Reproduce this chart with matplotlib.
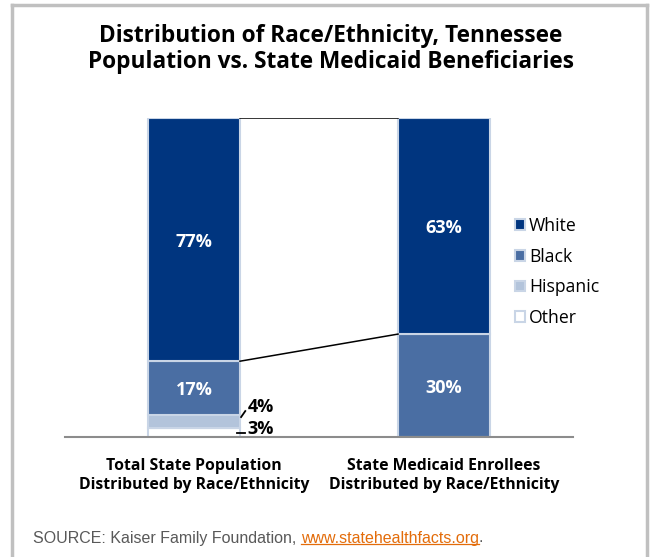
import numpy as np
import matplotlib.pyplot as plt
from matplotlib.patches import Patch
from matplotlib.lines import Line2D

# data: percent of each group, bottom to top of the stack
groups = ['Total State Population\nDistributed by Race/Ethnicity',
          'State Medicaid Enrollees\nDistributed by Race/Ethnicity']
races = ['Other', 'Hispanic', 'Black', 'White']
other = [3, np.nan]
hispanic = [4, np.nan]
black = [17, 30]
white = [77, 63]

colors = {'White': '#00357f', 'Black': '#4a6ea3', 'Hispanic': '#b3c4db', 'Other': '#ffffff'}
edge = '#c9d5e6'
bold = dict(family='Open Sans', fontweight='bold')

values = np.array([other, hispanic, black, white], dtype=float)
totals = np.nansum(values, axis=0)
shares = values / totals * 100  # 100% stacked

fig = plt.figure(figsize=(6.5, 5.57), dpi=100)
ax = fig.add_axes([65 / 650, 1 - 437 / 557, (573 - 65) / 650, (437 - 118) / 557])
ax.set_xlim(-0.516, 1.516)
ax.set_ylim(0, 100)

x = np.arange(len(groups))
w = 0.368
bottom = np.zeros(len(groups))
tops = {}
for i, race in enumerate(races):
    h = np.nan_to_num(shares[i])
    mask = ~np.isnan(shares[i])
    ax.bar(x[mask], h[mask], w, bottom=bottom[mask], color=colors[race],
           edgecolor=edge, linewidth=1.5, zorder=2)
    tops[race] = np.where(mask, bottom + h, np.nan)
    # labels inside the big segments
    for j in x[mask]:
        if shares[i][j] > 10:
            ax.annotate(f'{values[i][j]:.0f}%', xy=(j, bottom[j] + h[j] / 2), xytext=(0, -1.5),
                        textcoords='offset points', ha='center', va='center',
                        color='white', fontsize=13, **bold)
    bottom = bottom + h

# series lines between the two bars
for race in races:
    t = tops[race]
    if not np.isnan(t).any():
        ax.plot([x[0] + w / 2, x[1] - w / 2], [t[0], t[1]], color='black', lw=1.1, zorder=3)

ax.set_yticks([])
ax.set_xticks(x)
ax.set_xticklabels(groups, fontsize=11.3, linespacing=1.3, **bold)
ax.tick_params(axis='x', length=0, pad=15)
for s in ['top', 'right', 'left']:
    ax.spines[s].set_visible(False)
ax.spines['bottom'].set_color('#8c8c8c')
ax.spines['bottom'].set_linewidth(1.5)
ax.set_xlim(-0.516, 1.516)
ax.set_ylim(0, 100)

# small segments get labels outside, plus short leader lines
# (label offset, leader start offset, leader end offset) in points
small = [('Hispanic', 1, (5.5, 10.5), (0.8, 3), (3.8, 7.3)),
         ('Other', 0, (5.5, 2), (-2, -0.5), (3.6, -0.5))]
for race, i, off, l0, l1 in small:
    mid = tops[race][0] - shares[i][0] / 2
    xy = (x[0] + w / 2, mid)
    ax.annotate(f'{values[i][0]:.0f}%', xy=xy, xytext=off, textcoords='offset points',
                ha='left', va='center', fontsize=13, **bold)
    base = ax.transData.transform(xy)
    p0 = base + np.array(l0) * fig.dpi / 72
    p1 = base + np.array(l1) * fig.dpi / 72
    fig.add_artist(Line2D([p0[0] / 650, p1[0] / 650], [p0[1] / 557, p1[1] / 557],
                          transform=fig.transFigure, color='black', lw=1.3, zorder=5))

handles = [Patch(facecolor=colors[r], edgecolor=edge, linewidth=1.5) for r in races[::-1]]
fig.legend(handles, races[::-1], loc='upper left', bbox_to_anchor=(499 / 650, 1 - 201 / 557),
           frameon=False, prop={'family': 'Open Sans', 'size': 12.7}, handlelength=0.55,
           handleheight=0.55, handletextpad=0.25, labelspacing=0.72)

fig.text(331 / 650, 1 - 49 / 557,
         'Distribution of Race/Ethnicity, Tennessee\nPopulation vs. State Medicaid Beneficiaries',
         ha='center', va='center', fontsize=16.3, linespacing=1.13, **bold)

fs_src = 11.5
ys = 1 - 538 / 557
src = fig.text(33 / 650, ys, 'SOURCE: Kaiser Family Foundation, ', ha='left', va='center',
               fontsize=fs_src, color='#595959', family='Liberation Sans')
fig.canvas.draw()
bb = src.get_window_extent()
url = fig.text(bb.x1 / 650, ys, 'www.statehealthfacts.org', ha='left', va='center',
               fontsize=fs_src, color='#e36c0a', family='Liberation Sans')
bb2 = url.get_window_extent()
fig.text(bb2.x1 / 650, ys, '.', ha='left', va='center', fontsize=fs_src,
         color='#595959', family='Liberation Sans')
fig.add_artist(Line2D([bb2.x0 / 650, bb2.x1 / 650], [bb2.y0 / 557 + 0.002] * 2,
                      transform=fig.transFigure, color='#e36c0a', lw=0.9))

# outer frame
frame = dict(transform=fig.transFigure, color='#c0c0c0', lw=2.5)
fig.add_artist(Line2D([12 / 650, 12 / 650], [0, 1 - 5 / 557], **frame))
fig.add_artist(Line2D([12 / 650, 647 / 650], [1 - 5 / 557, 1 - 5 / 557], **frame))
fig.add_artist(Line2D([647 / 650, 647 / 650], [0, 1 - 5 / 557], **frame))

fig.savefig('out.png', dpi=100)
